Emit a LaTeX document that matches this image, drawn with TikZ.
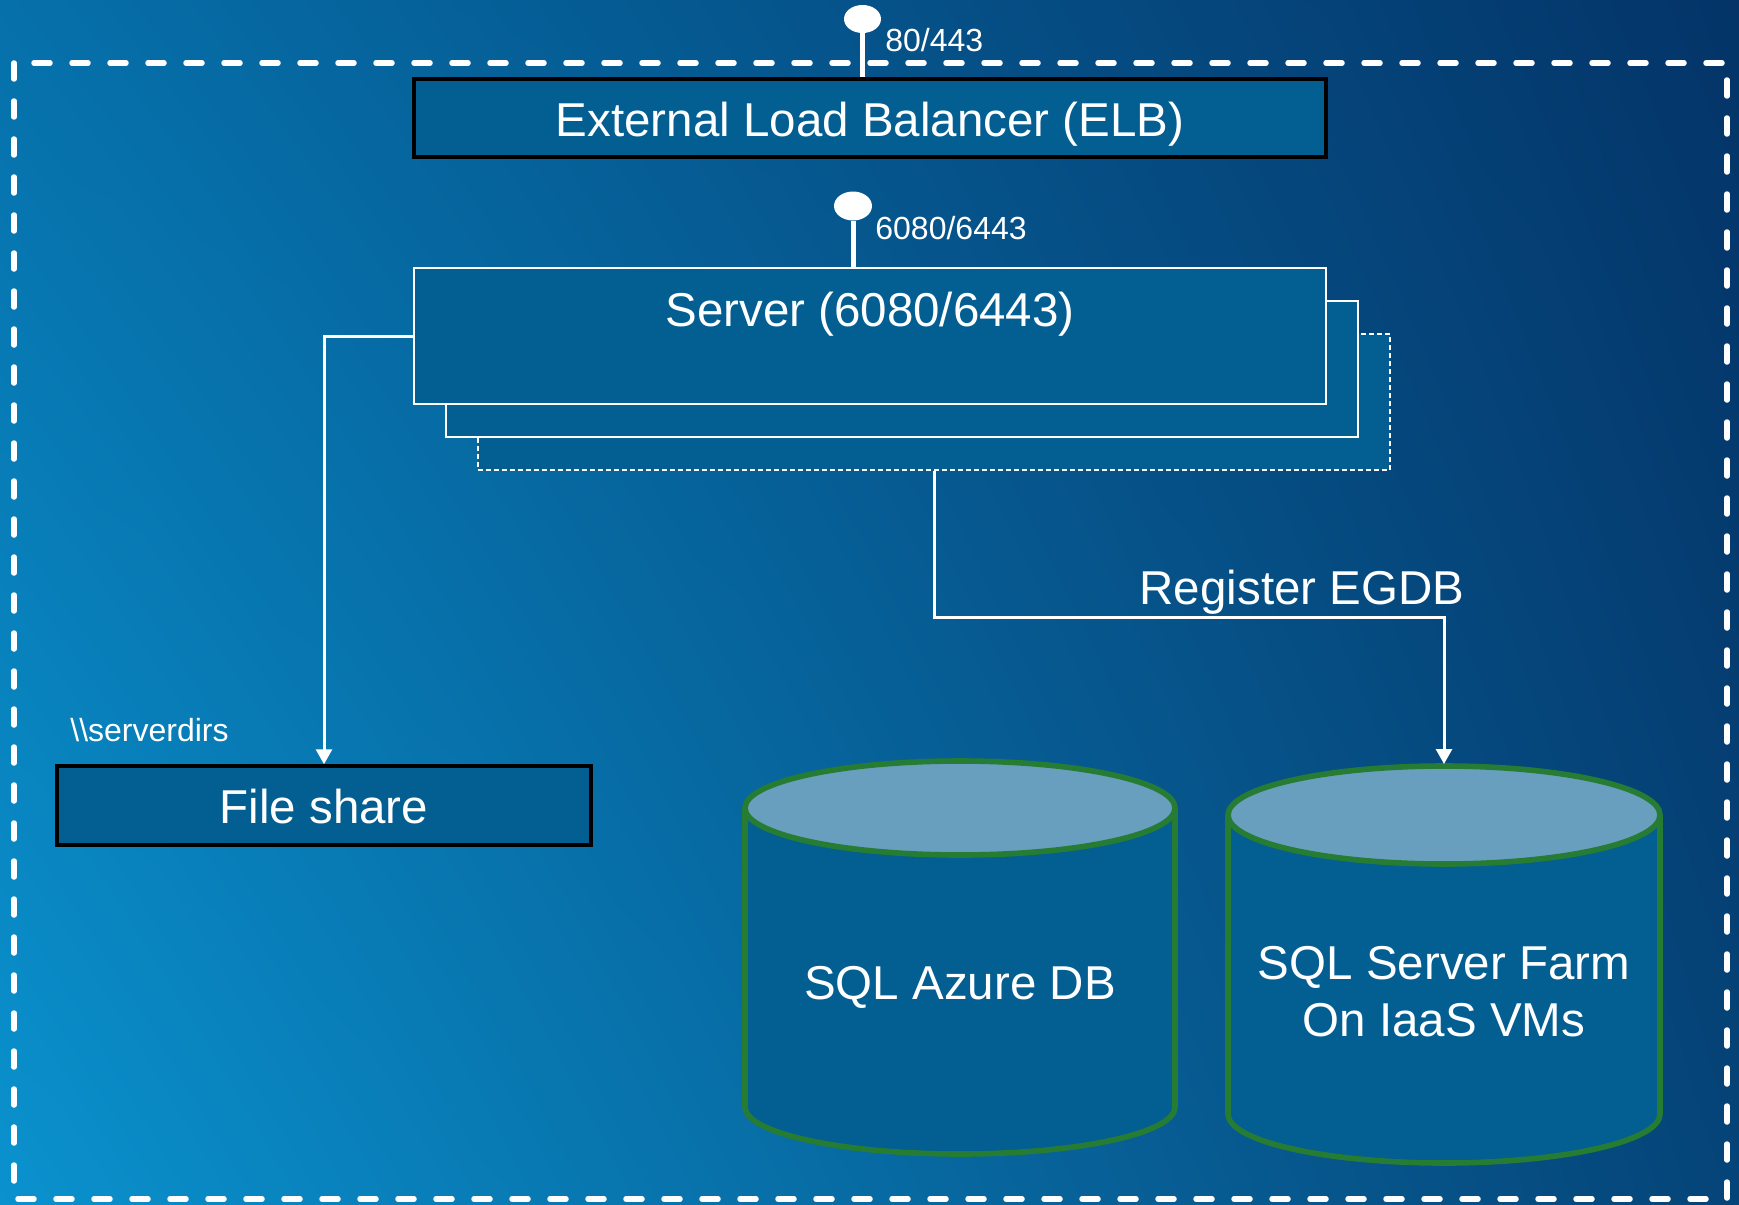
\documentclass[tikz,border=0pt]{standalone}
\usepackage{fontspec}
\setmainfont{Liberation Sans}
\usetikzlibrary{arrows.meta,shapes.geometric,shadings}
\definecolor{boxfill}{RGB}{3,94,146}
\definecolor{cyltop}{RGB}{104,159,190}
\definecolor{cylgreen}{RGB}{38,124,50}
\definecolor{bgll}{RGB}{10,146,206}
\definecolor{bgul}{RGB}{6,112,170}
\definecolor{bgur}{RGB}{4,52,104}
\definecolor{bglr}{RGB}{5,68,120}
\begin{document}
\begin{tikzpicture}[x=0.5pt,y=-0.5pt,
  bigtext/.style={font=\fontsize{23.75pt}{28.5pt}\selectfont, text=white, inner sep=0pt},
  smalltext/.style={font=\fontsize{16pt}{19pt}\selectfont, text=white, inner sep=0pt},
  blackbox/.style={draw=black, line width=1.75pt, fill=boxfill, inner sep=0pt},
  srvbox/.style={draw=white, line width=1pt, fill=boxfill, inner sep=0pt},
  srvdash/.style={draw=white, line width=0.8pt, dash pattern=on 2.5pt off 1.5pt, fill=boxfill, inner sep=0pt},
  conn/.style={draw=white, line width=1.5pt, -{Triangle[width=8pt,length=7.5pt]}},
  outerframe/.style={white, line width=2.75pt, line cap=round, dash pattern=on 8pt off 11pt},
  pinhead/.style={shape=ellipse, fill=white, inner sep=0pt},
  pinstem/.style={white, line width=2.5pt},
  cylline/.style={draw=cylgreen, line width=2.8pt}
]
\useasboundingbox (0,0) rectangle (1739,1204);
\shade[upper left=bgul, upper right=bgur, lower left=bgll, lower right=bglr] (0,0) rectangle (1739,1204);

% outer dashed frame
\draw[outerframe] (14,63) rectangle (1727,1199);

% External load balancer
\node[blackbox, minimum width=456pt, minimum height=39pt] (elb) at (870,118) {};
\node[bigtext, anchor=base] (elbtext) at (870,136) {External Load Balancer (ELB)};
\node[pinhead, minimum width=18.5pt, minimum height=14pt] (pin1) at (862.5,19) {};
\draw[pinstem] (pin1.south) -- (pin1.south |- elb.north);
\node[smalltext, anchor=base west] (pin1text) at (885,52) {80/443};

% server stack
\node[srvdash, minimum width=456pt, minimum height=68pt] (box3) at (934,402) {};
\node[srvbox, minimum width=456pt, minimum height=68pt] (box2) at (902,369) {};
\node[srvbox, minimum width=456pt, minimum height=68pt] (front) at (870,336) {};
\node[bigtext, anchor=base] (servertext) at (870,326) {Server (6080/6443)};
\node[pinhead, minimum width=19pt, minimum height=14.5pt] (pin2) at (853,206) {};
\draw[pinstem] (pin2.south) -- (pin2.south |- front.north);
\node[smalltext, anchor=base west] (pin2text) at (875,239) {6080/6443};

% file share
\node[blackbox, minimum width=267pt, minimum height=39.5pt] (fileshare) at (324,805.5) {};
\node[bigtext, anchor=base] (filesharetext) at (324,823) {File share};
\node[smalltext, anchor=base west] (serverdirs) at (70,741) {\textbackslash\textbackslash serverdirs};

% cylinder 1: SQL Azure DB
\fill[boxfill] (745,808) -- (745,1107) arc[start angle=180,end angle=360,x radius=107.5pt,y radius=23.5pt] -- (1175,808) -- cycle;
\draw[cylline] (745,808) -- (745,1107) arc[start angle=180,end angle=360,x radius=107.5pt,y radius=23.5pt] -- (1175,808);
\draw[cylline, fill=cyltop] (960,808) ellipse[x radius=107.5pt, y radius=23.5pt];
\node[bigtext, anchor=base] (sqlazure) at (960,999) {SQL Azure DB};

% cylinder 2: SQL Server Farm
\fill[boxfill] (1228,815) -- (1228,1114) arc[start angle=180,end angle=360,x radius=108pt,y radius=24.5pt] -- (1660,815) -- cycle;
\draw[cylline] (1228,815) -- (1228,1114) arc[start angle=180,end angle=360,x radius=108pt,y radius=24.5pt] -- (1660,815);
\draw[cylline, fill=cyltop] (1444,815) ellipse[x radius=108pt, y radius=24.5pt];
\coordinate (cyl2top) at (1444,764);
\node[bigtext, anchor=base] (sqlfarm) at (1444,979) {SQL Server Farm};
\node[bigtext, anchor=base] (sqlfarm2) at (1444,1036) {On IaaS VMs};

% connectors
\draw[conn] (front.west) -| (fileshare.north);
\draw[conn] (box3.south) -- ++(0,147) -| (cyl2top);
\node[bigtext, anchor=base] (egdb) at (1302,604) {Register EGDB};
\end{tikzpicture}
\end{document}
